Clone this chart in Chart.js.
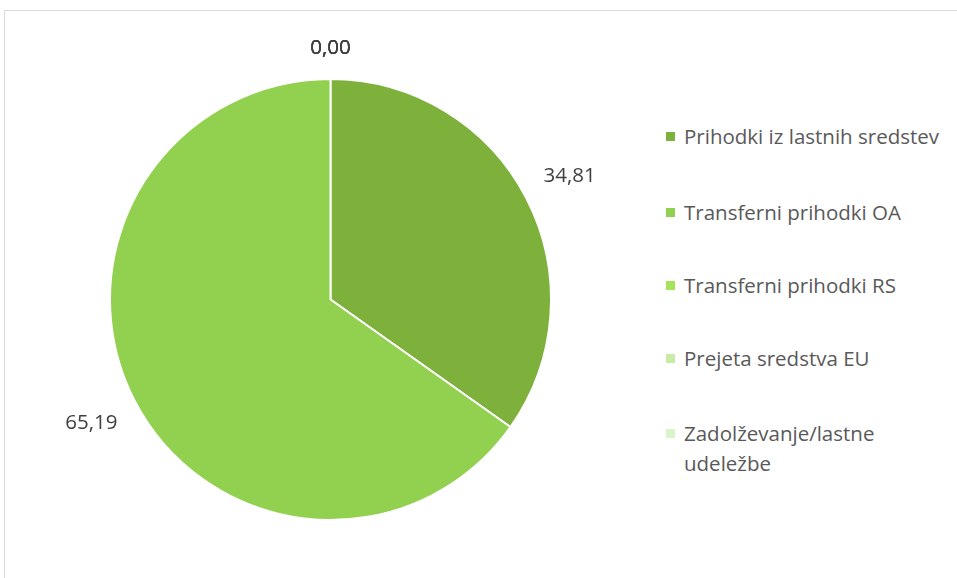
<!DOCTYPE html>
<html>
<head>
<meta charset="utf-8">
<script src="https://cdn.jsdelivr.net/npm/chart.js@4/dist/chart.umd.min.js"></script>
<style>
  html, body { margin: 0; padding: 0; background: #fff; }
  body { width: 957px; height: 578px; position: relative; overflow: hidden; font-family: "Open Sans", Lato, sans-serif; }
  #frame { position: absolute; left: 4px; top: 10px; width: 1000px; height: 600px; border-left: 1px solid #d9d9d9; border-top: 1px solid #d9d9d9; }
  #wrap { position: absolute; left: 0; top: 0; width: 660px; height: 578px; }
  #legend { position: absolute; left: 666px; top: 0; width: 291px; }
  .item { position: absolute; left: 0; display: flex; align-items: flex-start; color: #595959; font-size: 20.5px; line-height: 30px; width: 286px; }
  .sw { width: 9px; height: 9px; margin-top: 11px; margin-right: 9px; flex: none; }
</style>
</head>
<body>
<div id="frame"></div>
<div id="wrap"><canvas id="c" width="660" height="578"></canvas></div>
<div id="legend"></div>
<script>
const categories = ["Prihodki iz lastnih sredstev", "Transferni prihodki OA", "Transferni prihodki RS", "Prejeta sredstva EU", "Zadolževanje/lastne udeležbe"];
const values = [34.81, 65.19, 0.00, 0.00, 0.00];
const colors = ["#7db13c", "#92d050", "#a6e35b", "#c6eca6", "#daf4c9"];
const legendTops = [121, 197, 270, 343, 418];

const fmt = v => v.toFixed(2).replace('.', ',');

const labelPlugin = {
  id: 'outLabels',
  afterDatasetsDraw(chart) {
    const ctx = chart.ctx;
    const meta = chart.getDatasetMeta(0);
    ctx.save();
    ctx.font = '20.5px "Open Sans", Lato, sans-serif';
    ctx.fillStyle = '#404040';
    ctx.textAlign = 'center';
    ctx.textBaseline = 'middle';
    meta.data.forEach((arc, i) => {
      const p = arc.getProps(['x', 'y', 'startAngle', 'endAngle', 'outerRadius'], true);
      const mid = (p.startAngle + p.endAngle) / 2;
      const cx = Math.cos(mid), cy = Math.sin(mid);
      const text = fmt(values[i]);
      const w = ctx.measureText(text).width;
      const h = 20;
      const ext = Math.abs(cx) * w / 2 + Math.abs(cy) * h / 2;
      const d = p.outerRadius + 21 + ext;
      ctx.fillText(text, p.x + cx * d, p.y + cy * d);
    });
    ctx.restore();
  }
};

new Chart(document.getElementById('c'), {
  type: 'pie',
  data: {
    labels: categories,
    datasets: [{
      data: values,
      backgroundColor: colors,
      borderColor: '#ffffff',
      borderWidth: 2
    }]
  },
  options: {
    responsive: false,
    animation: false,
    layout: { padding: { left: 109, right: 108, top: 78, bottom: 57 } },
    plugins: { legend: { display: false }, tooltip: { enabled: false } }
  },
  plugins: [labelPlugin]
});

const lg = document.getElementById('legend');
categories.forEach((c, i) => {
  const d = document.createElement('div');
  d.className = 'item';
  d.style.top = legendTops[i] + 'px';
  const s = document.createElement('span');
  s.className = 'sw';
  s.style.background = colors[i];
  const t = document.createElement('span');
  t.textContent = c;
  d.appendChild(s); d.appendChild(t);
  lg.appendChild(d);
});
</script>
</body>
</html>
